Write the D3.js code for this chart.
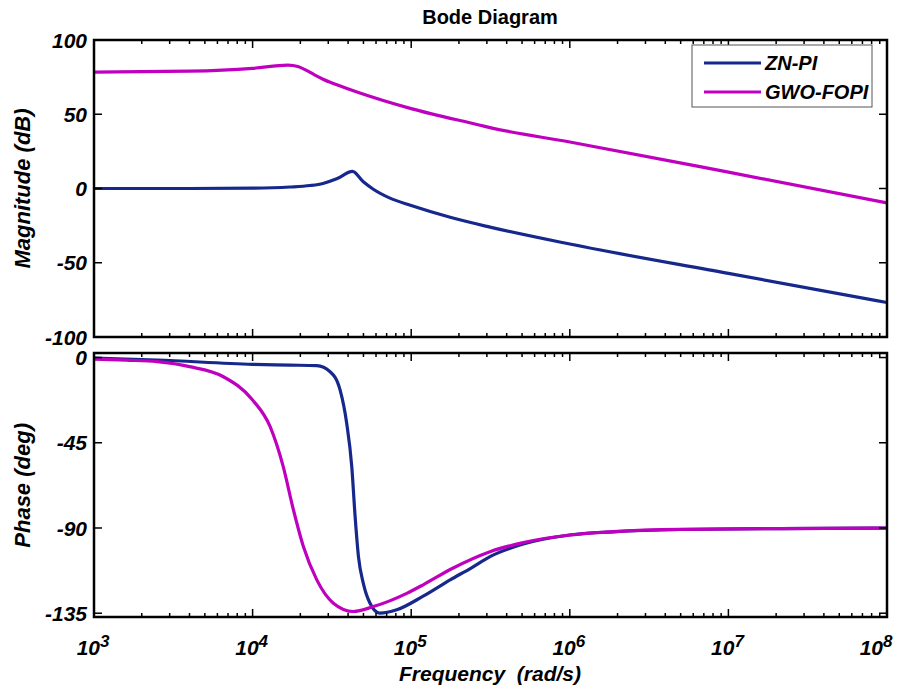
<!DOCTYPE html>
<html>
<head>
<meta charset="utf-8">
<script src="https://cdn.jsdelivr.net/npm/d3@7"></script>
<style>
  body { margin: 0; background: #fff; }
  svg { display: block; }
  .tick-label, .axis-label, .legend-text { font-family: "Liberation Sans", Arial, sans-serif; font-weight: bold; font-style: italic; fill: #000; }
  .title { font-family: "Liberation Sans", Arial, sans-serif; font-weight: bold; fill: #000; }
</style>
</head>
<body>
<div class="chart"></div>
<script>
var width = 905,
    height = 691;

// magnitude (dB), freq in rad/s
var magFreqZN = [1000, 4000, 10000, 17200, 23000, 27800, 33900, 42600, 49900, 57700, 73500, 100000, 176000, 314000, 1000000, 10000000, 100000000];
var magZN     = [0, 0, 0.2, 1, 2, 3.4, 6.5, 11.5, 4.5, -0.5, -6.5, -11.5, -19.4, -26, -37.4, -57.2, -76.8];

var magFreqGWO = [1000, 4000, 10000, 16700, 19300, 21700, 24400, 27800, 34000, 45500, 100000, 272000, 314000, 1000000, 10000000, 100000000];
var magGWO     = [78.4, 79, 80.9, 83.1, 82.1, 79.7, 76.7, 73.6, 69.9, 65, 53.8, 42.6, 41, 31.3, 11, -9.7];

// phase (deg)
var phFreqZN = [1000, 2500, 10000, 17200, 25400, 30800, 35600, 39200, 42200, 44300, 46500, 49900, 55000, 63500, 81100, 119000, 176000, 240000, 314000, 509000, 1000000, 1880000, 4940000, 21100000, 100000000];
var phZN     = [-0.3, -1.3, -3.6, -4, -4.3, -7.5, -17.1, -34.7, -57.6, -84, -105.1, -119.2, -129.7, -135, -133.2, -126, -117.4, -111, -105.1, -98.5, -93.7, -92, -90.8, -90.3, -90.1];

var phFreqGWO = [1000, 1600, 2500, 4000, 6500, 10000, 12900, 15600, 18100, 20900, 25400, 32300, 43200, 57700, 93800, 119000, 180000, 314000, 509000, 1000000, 1880000, 4940000, 21100000, 100000000];
var phGWO     = [-0.8, -1.4, -2.2, -4.8, -10, -22.4, -36.5, -57.6, -80.5, -99.8, -117.4, -129.7, -134.1, -131.5, -124.5, -120, -111.5, -102.5, -97.7, -93.7, -91.9, -90.7, -90.3, -90.1];

var seriesNames = ["ZN-PI", "GWO-FOPI"];
var colors = ["#17288c", "#bf00bf"];

var magTicks = [-100, -50, 0, 50, 100];
var phTicks = [-135, -90, -45, 0];
var decades = [3, 4, 5, 6, 7, 8];

var svg = d3.select(".chart").append("svg")
    .attr("width", width)
    .attr("height", height);

var left = 94, right = 887;

var x = d3.scaleLog()
    .domain([1e3, 1e8])
    .range([left, right]);

var yMag = d3.scaleLinear()
    .domain([-100, 100])
    .range([337, 40]);

var yPh = d3.scaleLinear()
    .domain([-137, 2.4])
    .range([617, 353]);

function zip(f, v) {
    return f.map(function(d, i) { return [d, v[i]]; });
}

var minorTicks = [];
decades.slice(0, -1).forEach(function(e) {
    for (var k = 2; k <= 9; k++) minorTicks.push(k * Math.pow(10, e));
});
var majorTicks = decades.map(function(e) { return Math.pow(10, e); });

function panel(id, y, ticks, lines) {
    var g = svg.append("g");
    var top = y.range()[1], bottom = y.range()[0];

    g.append("clipPath").attr("id", id)
        .append("rect")
        .attr("x", left).attr("y", top)
        .attr("width", right - left).attr("height", bottom - top);

    var line = d3.line()
        .x(function(d) { return x(d[0]); })
        .y(function(d) { return y(d[1]); })
        .curve(d3.curveMonotoneX);

    lines.forEach(function(l, i) {
        g.append("path")
            .datum(l)
            .attr("clip-path", "url(#" + id + ")")
            .attr("fill", "none")
            .attr("stroke", colors[i])
            .attr("stroke-width", 3.2)
            .attr("stroke-linejoin", "round")
            .attr("d", line);
    });

    // inward ticks, top and bottom
    var tk = g.append("g").attr("stroke", "#000").attr("stroke-width", 1.5);
    minorTicks.forEach(function(t) {
        tk.append("line").attr("x1", x(t)).attr("x2", x(t)).attr("y1", top).attr("y2", top + 4);
        tk.append("line").attr("x1", x(t)).attr("x2", x(t)).attr("y1", bottom).attr("y2", bottom - 4);
    });
    majorTicks.forEach(function(t) {
        tk.append("line").attr("x1", x(t)).attr("x2", x(t)).attr("y1", top).attr("y2", top + 8);
        tk.append("line").attr("x1", x(t)).attr("x2", x(t)).attr("y1", bottom).attr("y2", bottom - 8);
    });
    ticks.forEach(function(t) {
        tk.append("line").attr("x1", left).attr("x2", left + 8).attr("y1", y(t)).attr("y2", y(t));
        tk.append("line").attr("x1", right).attr("x2", right - 8).attr("y1", y(t)).attr("y2", y(t));
        g.append("text")
            .attr("class", "tick-label")
            .attr("x", left - 7)
            .attr("y", y(t))
            .attr("dy", "0.36em")
            .attr("text-anchor", "end")
            .style("font-size", "21px")
            .text(t);
    });

    g.append("rect")
        .attr("x", left).attr("y", top)
        .attr("width", right - left).attr("height", bottom - top)
        .attr("fill", "none")
        .attr("stroke", "#000")
        .attr("stroke-width", 2.5);
    return g;
}

panel("clipMag", yMag, magTicks, [zip(magFreqZN, magZN), zip(magFreqGWO, magGWO)]);
panel("clipPh", yPh, phTicks, [zip(phFreqZN, phZN), zip(phFreqGWO, phGWO)]);

// x tick labels 10^n ; base "10" ends just right of the tick, last one pulled in
decades.forEach(function(e, i) {
    var px = x(Math.pow(10, e)) + (i === decades.length - 1 ? -4 : 6);
    svg.append("text")
        .attr("class", "tick-label")
        .attr("x", px)
        .attr("y", 655)
        .attr("text-anchor", "end")
        .style("font-size", "21px")
        .text("10");
    svg.append("text")
        .attr("class", "tick-label")
        .attr("x", px)
        .attr("y", 647)
        .style("font-size", "17px")
        .text(e);
});

svg.append("text")
    .attr("class", "title")
    .attr("x", 490)
    .attr("y", 24)
    .attr("text-anchor", "middle")
    .style("font-size", "20px")
    .text("Bode Diagram");

svg.append("text")
    .attr("class", "axis-label")
    .attr("x", 490)
    .attr("y", 681)
    .attr("text-anchor", "middle")
    .style("font-size", "21px")
    .style("white-space", "pre")
    .text("Frequency  (rad/s)");

svg.append("text")
    .attr("class", "axis-label")
    .attr("transform", "translate(30," + yMag(0) + ") rotate(-90)")
    .attr("text-anchor", "middle")
    .style("font-size", "22px")
    .text("Magnitude (dB)");

svg.append("text")
    .attr("class", "axis-label")
    .attr("transform", "translate(30," + yPh(-67.5) + ") rotate(-90)")
    .attr("text-anchor", "middle")
    .style("font-size", "22px")
    .text("Phase (deg)");

// legend
var legend = svg.append("g").attr("transform", "translate(692,45)");
legend.append("rect")
    .attr("width", 180).attr("height", 62)
    .attr("fill", "#fff")
    .attr("stroke", "#555")
    .attr("stroke-width", 1);
seriesNames.forEach(function(name, i) {
    var ly = 18 + i * 29;
    legend.append("line")
        .attr("x1", 12).attr("x2", 69)
        .attr("y1", ly).attr("y2", ly)
        .attr("stroke", colors[i])
        .attr("stroke-width", 3);
    legend.append("text")
        .attr("class", "legend-text")
        .attr("x", 73).attr("y", ly)
        .attr("dy", "0.36em")
        .style("font-size", "20px")
        .text(name);
});
</script>
</body>
</html>
